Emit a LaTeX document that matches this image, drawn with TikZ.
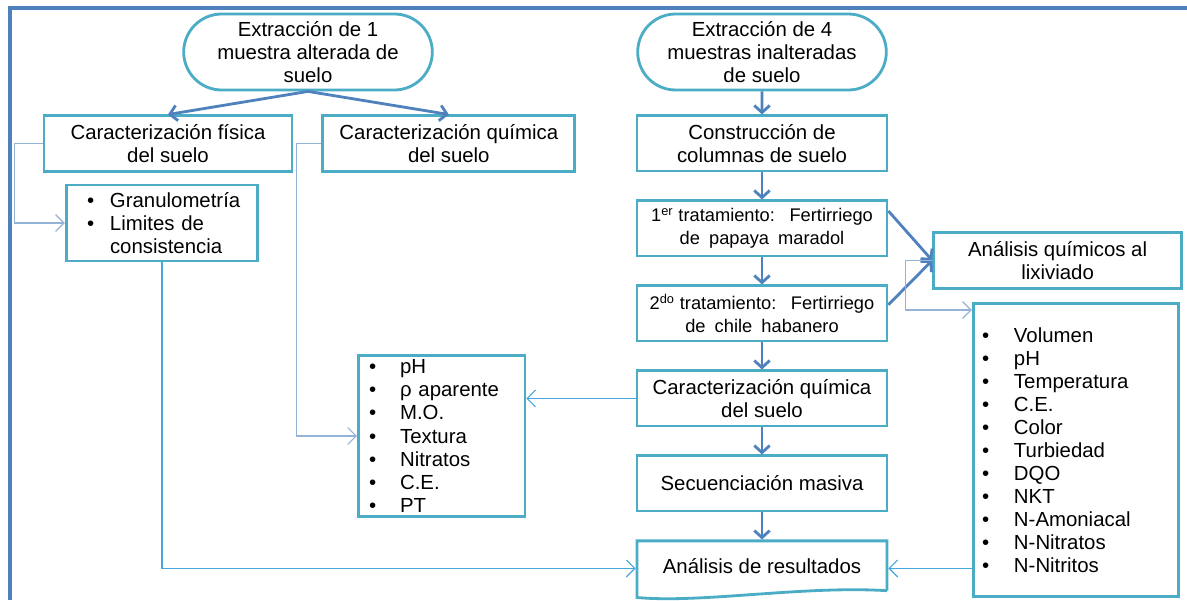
\documentclass[tikz,border=0pt]{standalone}
\usepackage{fontspec}
\setmainfont{Liberation Sans}
\usepackage{xcolor}
\usetikzlibrary{arrows.meta, positioning, shapes.misc, calc}
\definecolor{frameblue}{HTML}{4F81BD}
\definecolor{boxblue}{HTML}{4BACC6}
\definecolor{paleblue}{HTML}{95B3D7}
\definecolor{skyblue}{HTML}{45A7DD}
\newcommand{\bul}[2]{\makebox[#1][l]{\textbullet}#2}

\begin{document}
\begin{tikzpicture}[
  box/.style={rectangle, draw=boxblue, line width=2pt, fill=white,
              minimum width=6.25cm, minimum height=1.38cm, align=center,
              inner ysep=2pt, font=\fontsize{14.5pt}{16.4pt}\selectfont},
  start/.style={box, rounded rectangle, minimum width=6.45cm, minimum height=1.9cm},
  small/.style={box, font=\fontsize{13pt}{16.4pt}\selectfont},
  list/.style={box, align=left, minimum width=0pt, inner ysep=1pt},
  arr/.style={-{Straight Barb[length=5pt,width=11pt]}, line width=2pt, frameblue},
  link/.style={-{Straight Barb[length=6pt,width=12pt]}, line width=0.8pt, skyblue},
  plink/.style={link, paleblue}
]
\useasboundingbox (0,0) rectangle (29.675,-15);
\draw[frameblue, line width=3.5pt] (29.675,-0.2) -- (0.25,-0.2) -- (0.25,-15);

\node[start] (ext1) at (7.7,-1.3) {Extracción de 1\\muestra alterada de\\suelo};
\node[start] (ext2) at (19.05,-1.3) {Extracción de 4\\muestras inalteradas\\de suelo};
\node[box, minimum width=6.2cm] (fis) at (4.2,-3.5875) {Caracterización física\\del suelo};
\node[box, minimum width=6.3cm, right=0.7cm of fis] (quim) {Caracterización química\\del suelo};
\node[list, text width=3.75cm, inner xsep=0.52cm, minimum height=1.9cm] (gran) at (4.05,-5.575)
  {\bul{0.575cm}{Granulometría}\\\bul{0.575cm}{Limites de}\\\hspace*{0.575cm}consistencia};
\node[list, text width=3.625cm, inner xsep=0.27cm, minimum height=4.03cm] (ph) at (11.04,-10.9)
  {\bul{0.775cm}{pH}\\\bul{0.775cm}{ρ aparente}\\\bul{0.775cm}{M.O.}\\\bul{0.775cm}{Textura}\\
   \bul{0.775cm}{Nitratos}\\\bul{0.775cm}{C.E.}\\\bul{0.775cm}{PT}};

\node[box, below=0.575cm of ext2] (cons) {Construcción de\\columnas de suelo};
\node[small, below=0.675cm of cons] (t1) {1\textsuperscript{er} tratamiento:\hspace{0.8em}Fertirriego\\de\hspace{0.5em}papaya\hspace{0.5em}maradol};
\node[small, below=0.675cm of t1] (t2) {2\textsuperscript{do} tratamiento:\hspace{0.8em}Fertirriego\\de\hspace{0.5em}chile\hspace{0.5em}habanero};
\node[box, below=0.675cm of t2] (cq) {Caracterización química\\del suelo};
\node[box, below=0.675cm of cq] (sec) {Secuenciación masiva};
\node[box, draw=none, below=0.675cm of sec] (res) {\raisebox{0.12cm}{Análisis de resultados}};
\draw[draw=boxblue, line width=2pt] ($(res.south east)+(-0.035,0.17)$) -- ($(res.north east)+(-0.035,-0.035)$)
  -- ($(res.north west)+(0.035,-0.035)$) -- ($(res.south west)+(0.035,0)$)
  .. controls ($(res.south west)+(1.65,-0.15)$) and ($(res.south east)+(-2.15,0.3)$) .. ($(res.south east)+(-0.035,0.17)$);

\node[box, minimum width=6.2cm, minimum height=1.41cm] (anq) at (26.44,-6.51) {Análisis químicos al\\lixiviado};
\node[list, text width=4.7cm, inner xsep=0.22cm, minimum height=7.33cm] (vol) at (26.9,-11.25)
  {\bul{0.8cm}{Volumen}\\\bul{0.8cm}{pH}\\\bul{0.8cm}{Temperatura}\\\bul{0.8cm}{C.E.}\\
   \bul{0.8cm}{Color}\\\bul{0.8cm}{Turbiedad}\\\bul{0.8cm}{DQO}\\\bul{0.8cm}{NKT}\\
   \bul{0.8cm}{N-Amoniacal}\\\bul{0.8cm}{N-Nitratos}\\\bul{0.8cm}{N-Nitritos}};

\draw[arr] (ext1.south) -- (fis.north);
\draw[arr] (ext1.south) -- (quim.north);
\draw[arr] (ext2) -- (cons);
\draw[arr] (cons) -- (t1);
\draw[arr] (t1) -- (t2);
\draw[arr] (t2) -- (cq);
\draw[arr] (cq) -- (sec);
\draw[arr] (sec) -- (res);
\draw[arr] ($(t1.north east)!0.2!(t1.south east)$) -- (anq.west);
\draw[arr] ($(t2.north east)!0.35!(t2.south east)$) -- (anq.west);

\draw[plink] (fis.west) -- ++(-0.7,0) |- (gran.west);
\draw[plink] (quim.west) -- ++(-0.625,0) |- (ph.west);
\draw[link] (gran.south) |- (res.west);
\draw[link] (cq.west) -- (cq.west -| ph.east);
\draw[link] (res.east -| vol.west) -- (res.east);
\draw[plink] (anq.west) -- ++(-0.675,0) |- ($(vol.north west)+(0,-0.2)$);
\end{tikzpicture}
\end{document}
